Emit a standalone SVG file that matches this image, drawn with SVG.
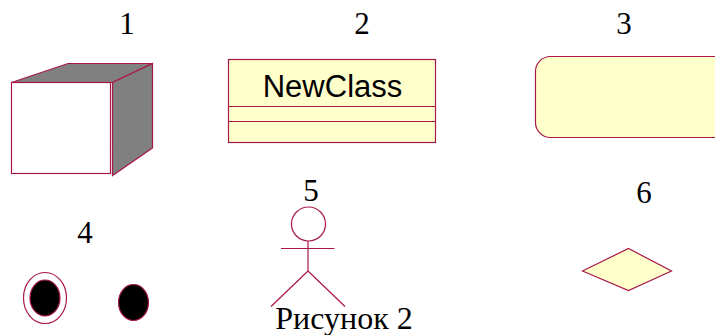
<svg xmlns="http://www.w3.org/2000/svg" width="715" height="335" viewBox="0 0 715 335">
<style>
.s{stroke:#a8174a;stroke-width:1.2;fill:none}
.y{fill:#ffffcb}
.g{fill:#808080}
.w{fill:#fff}
.k{fill:#000}
.n{font-family:"Liberation Serif",serif;font-size:31px;fill:#000;text-anchor:middle}
.c{font-family:"Liberation Sans",sans-serif;font-size:31px;fill:#000;text-anchor:middle}
</style>
<rect width="715" height="335" fill="#fff"/>
<g id="node-1">
<path class="s g" d="M11.500 82.500L68 63.500H152.500L112.500 82.500Z"/>
<path class="s g" d="M112.500 82.500L152.500 63.500V148L112.500 175.500Z"/>
<rect class="s w" x="11.500" y="82.500" width="99" height="91"/>
<text class="n" x="127" y="34">1</text>
</g>
<g id="node-2">
<rect class="s y" x="228.500" y="59.500" width="207" height="83"/>
<path class="s" d="M228.500 106.500H435.500M228.500 121.500H435.500"/>
<text class="c" x="332.500" y="97">NewClass</text>
<text class="n" x="362" y="34">2</text>
</g>
<g id="node-3">
<rect class="s y" x="535.500" y="56.500" width="200" height="81" rx="15" ry="15"/>
<text class="n" x="624" y="34">3</text>
</g>
<g id="node-4">
<ellipse class="s w" cx="45" cy="298" rx="21.500" ry="25.500"/>
<ellipse class="s k" cx="45" cy="298" rx="15" ry="18"/>
<ellipse class="s k" cx="133.500" cy="302.500" rx="15" ry="18"/>
<text class="n" x="85" y="243">4</text>
</g>
<g id="node-5">
<circle class="s" cx="308.500" cy="224" r="17"/>
<path class="s" d="M281 248.500H334.500M308 241V271M308 271L271 306.500M308 271L345 306.500"/>
<text class="n" x="311" y="201">5</text>
</g>
<g id="node-6">
<path class="s y" d="M582.500 271L628.500 248.500L671.500 271L628.500 290.500Z"/>
<text class="n" x="644" y="203">6</text>
</g>
<text class="n" style="font-size:32px" x="344" y="329">Рисунок 2</text>
</svg>
